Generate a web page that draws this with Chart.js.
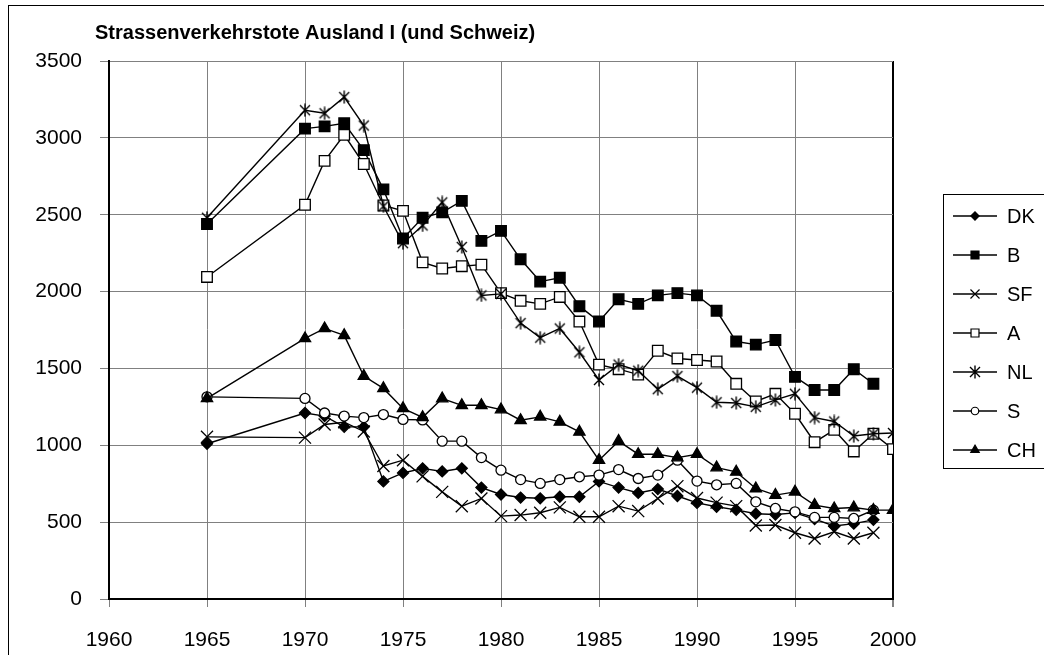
<!DOCTYPE html>
<html>
<head>
<meta charset="utf-8">
<script src="https://cdn.jsdelivr.net/npm/chart.js@4/dist/chart.umd.min.js"></script>
<style>
  html, body { margin: 0; padding: 0; background: #fff; }
  canvas { display: block; }
</style>
</head>
<body>
<canvas id="chart" width="1044" height="655"></canvas>
<script>
// Data
const years = [1965, 1970, 1971, 1972, 1973, 1974, 1975, 1976, 1977, 1978, 1979, 1980,
    1981, 1982, 1983, 1984, 1985, 1986, 1987, 1988, 1989, 1990,
    1991, 1992, 1993, 1994, 1995, 1996, 1997, 1998, 1999, 2000];

const dk = [1010, 1210, 1190, 1120, 1120, 765, 820, 850, 830, 850, 725, 680,
    660, 655, 665, 665, 765, 725, 690, 715, 670, 625,
    600, 580, 555, 550, 560, 520, 475, 490, 515, null];
const b = [2440, 3060, 3075, 3095, 2920, 2665, 2345, 2480, 2515, 2590, 2330, 2395,
    2210, 2065, 2090, 1905, 1805, 1950, 1920, 1975, 1990, 1975,
    1875, 1675, 1655, 1685, 1445, 1360, 1360, 1495, 1400, null];
const sf = [1055, 1050, 1135, 1150, 1090, 865, 903, 798, 697, 604, 654, 539,
    546, 561, 596, 535, 535, 604, 572, 654, 734, 657,
    627, 604, 478, 481, 431, 394, 437, 394, 431, null];
const a = [2095, 2565, 2850, 3020, 2830, 2560, 2525, 2190, 2150, 2165, 2175, 1990,
    1940, 1920, 1965, 1805, 1525, 1495, 1460, 1615, 1565, 1555,
    1545, 1400, 1285, 1335, 1205, 1020, 1100, 960, 1075, 975];
const nl = [2480, 3180, 3160, 3265, 3080, 2555, 2315, 2430, 2580, 2290, 1975, 1985,
    1795, 1700, 1760, 1605, 1425, 1525, 1485, 1365, 1450, 1375,
    1280, 1275, 1250, 1295, 1335, 1180, 1155, 1060, 1075, 1080];
const s = [1315, 1305, 1210, 1190, 1180, 1200, 1168, 1165, 1027, 1027, 920, 838,
    777, 752, 777, 795, 806, 842, 784, 806, 903, 767,
    743, 752, 632, 589, 567, 531, 531, 524, 578, null];
const ch = [1305, 1695, 1760, 1715, 1450, 1370, 1240, 1182, 1304, 1260, 1260, 1232,
    1163, 1185, 1152, 1087, 903, 1027, 942, 942, 920, 942,
    855, 827, 719, 676, 697, 611, 589, 595, 578, 578];

const seriesLabels = ['DK', 'B', 'SF', 'A', 'NL', 'S', 'CH'];
const xTicks = [1960, 1965, 1970, 1975, 1980, 1985, 1990, 1995, 2000];
const yTicks = [0, 500, 1000, 1500, 2000, 2500, 3000, 3500];
const chartTitle = 'Strassenverkehrstote Ausland I (und Schweiz)';

const FONT = "'Liberation Sans', Arial, sans-serif";

// Excel style asterisk marker (x with vertical bar)
function makeStar() {
    const c = document.createElement('canvas');
    c.width = 14; c.height = 14;
    const g = c.getContext('2d');
    g.strokeStyle = '#000';
    g.lineWidth = 1.4;
    g.beginPath();
    g.moveTo(2, 2); g.lineTo(12, 12);
    g.moveTo(12, 2); g.lineTo(2, 12);
    g.moveTo(7, 0.5); g.lineTo(7, 13.5);
    g.stroke();
    return c;
}
const starMarker = makeStar();

const markerStyles = [
    { pointStyle: 'rectRot', radius: 5.5, fill: '#000' },
    { pointStyle: 'rect', radius: 7.5, fill: '#000' },
    { pointStyle: 'crossRot', radius: 8.5, fill: '#000' },
    { pointStyle: 'rect', radius: 7.5, fill: '#fff' },
    { pointStyle: starMarker, radius: 7, fill: '#000' },
    { pointStyle: 'circle', radius: 5, fill: '#fff' },
    { pointStyle: 'triangle', radius: 6.5, fill: '#000' }
];

const allValues = [dk, b, sf, a, nl, s, ch];

const datasets = allValues.map((vals, i) => ({
    label: seriesLabels[i],
    data: years.map((y, j) => ({ x: y, y: vals[j] })).filter(p => p.y !== null),
    borderColor: '#000',
    borderWidth: 1.4,
    backgroundColor: markerStyles[i].fill,
    pointStyle: markerStyles[i].pointStyle,
    pointRadius: markerStyles[i].radius,
    pointBackgroundColor: markerStyles[i].fill,
    pointBorderColor: '#000',
    pointBorderWidth: 1.3,
    tension: 0,
    order: allValues.length - i
}));

// Outer frame and title
const framePlugin = {
    id: 'frame',
    beforeDraw(chart) {
        const ctx = chart.ctx;
        ctx.save();
        ctx.fillStyle = '#fff';
        ctx.fillRect(0, 0, chart.width, chart.height);
        ctx.strokeStyle = '#000';
        ctx.lineWidth = 1;
        ctx.strokeRect(8.5, 5.5, 1100, 700);
        ctx.fillStyle = '#000';
        ctx.font = 'bold 20px ' + FONT;
        ctx.textBaseline = 'middle';
        ctx.fillText(chartTitle, 95, 33);
        ctx.restore();
    }
};

// Legend box on the right: line with marker, then the label
const legendPlugin = {
    id: 'sideLegend',
    afterDraw(chart) {
        const ctx = chart.ctx;
        ctx.save();
        ctx.strokeStyle = '#000';
        ctx.lineWidth = 1;
        ctx.strokeRect(943.5, 194.5, 200, 274);
        ctx.font = '20px ' + FONT;
        ctx.textBaseline = 'middle';
        seriesLabels.forEach((label, i) => {
            const y = 216 + i * 39;
            const m = markerStyles[i];
            ctx.strokeStyle = '#000';
            ctx.lineWidth = 1.4;
            ctx.beginPath();
            ctx.moveTo(953, y);
            ctx.lineTo(997, y);
            ctx.stroke();
            ctx.fillStyle = m.fill;
            ctx.lineWidth = 1.2;
            Chart.helpers.drawPoint(ctx, {
                pointStyle: m.pointStyle,
                rotation: 0,
                radius: m.radius * 0.75,
                borderWidth: 1.2
            }, 975, y);
            ctx.fillStyle = '#000';
            ctx.fillText(label, 1007, y + 1);
        });
        ctx.restore();
    }
};

new Chart(document.getElementById('chart').getContext('2d'), {
    type: 'line',
    data: { datasets: datasets },
    options: {
        responsive: false,
        animation: false,
        devicePixelRatio: 1,
        layout: { padding: { left: 0, top: 61, right: 151, bottom: 0 } },
        plugins: {
            legend: { display: false },
            title: { display: false },
            tooltip: { enabled: false }
        },
        scales: {
            x: {
                type: 'linear',
                min: 1960,
                max: 2000,
                afterFit: sc => { sc.height = 56; },
                afterBuildTicks: sc => { sc.ticks = xTicks.map(v => ({ value: v })); },
                ticks: {
                    color: '#000',
                    font: { family: FONT, size: 21 },
                    padding: 21,
                    maxRotation: 0,
                    callback: v => String(v)
                },
                grid: {
                    color: ctx => ctx.tick && ctx.tick.value === 2000 ? '#000' : '#808080',
                    lineWidth: ctx => ctx.tick && ctx.tick.value === 2000 ? 2 : 1,
                    tickLength: 8,
                    tickColor: '#808080'
                },
                border: { display: true, color: '#000', width: 2 }
            },
            y: {
                min: 0,
                max: 3500,
                afterFit: sc => { sc.width = 109; },
                afterBuildTicks: sc => { sc.ticks = yTicks.map(v => ({ value: v })); },
                ticks: {
                    color: '#000',
                    font: { family: FONT, size: 21 },
                    padding: 18,
                    callback: v => String(v)
                },
                grid: {
                    color: '#808080',
                    lineWidth: 1,
                    tickLength: 9,
                    tickColor: '#808080'
                },
                border: { display: true, color: '#000', width: 2 }
            }
        }
    },
    plugins: [framePlugin, legendPlugin]
});
</script>
</body>
</html>
